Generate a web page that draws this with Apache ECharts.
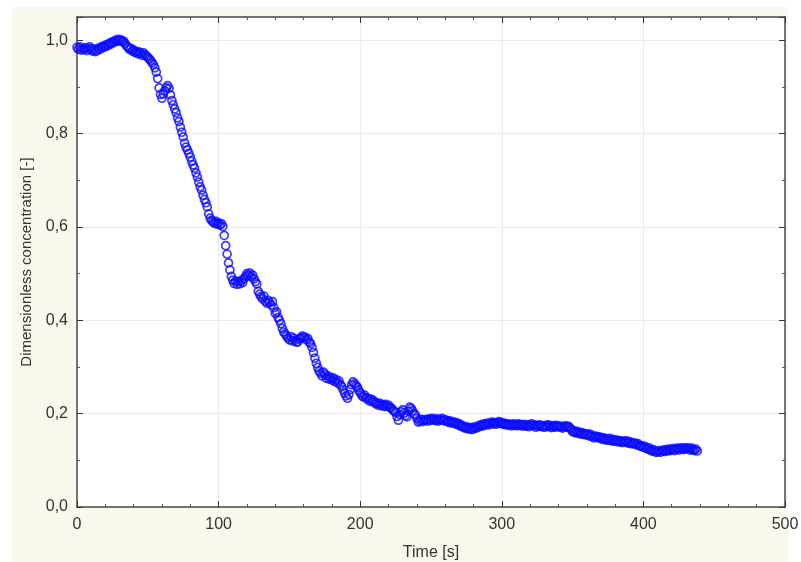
<!DOCTYPE html>
<html lang="en">
<head>
<meta charset="UTF-8">
<title>Dimensionless concentration</title>
<script src="https://cdn.jsdelivr.net/npm/echarts@6/dist/echarts.min.js"></script>
<style>
  html, body { margin: 0; padding: 0; background: #fff; }
  #main { width: 801px; height: 562px; }
</style>
</head>
<body>
<div id="main"></div>
<script>
// sampling: one reading per second, starting at t = 0 s
var timeStart = 0;
var timeStep = 1;

// dimensionless concentration [-]
var concentration = [
  0.985, 0.981, 0.986, 0.979, 0.983, 0.980, 0.984, 0.978, 0.982, 0.986,
  0.982, 0.977, 0.981, 0.976, 0.978, 0.983, 0.980, 0.986, 0.984, 0.988,
  0.986, 0.991, 0.989, 0.994, 0.992, 0.997, 0.995, 1.000, 0.998, 1.002,
  0.999, 1.001, 0.997, 0.998, 0.993, 0.988, 0.985, 0.981, 0.983, 0.977,
  0.979, 0.974, 0.976, 0.971, 0.975, 0.972, 0.968, 0.973, 0.969, 0.966,
  0.964, 0.960, 0.957, 0.952, 0.948, 0.941, 0.932, 0.918, 0.898, 0.884,
  0.876, 0.885, 0.892, 0.898, 0.903, 0.897, 0.883, 0.871, 0.862, 0.853,
  0.845, 0.834, 0.826, 0.814, 0.803, 0.793, 0.780, 0.771, 0.765, 0.758,
  0.750, 0.741, 0.733, 0.726, 0.716, 0.707, 0.696, 0.686, 0.679, 0.668,
  0.659, 0.652, 0.643, 0.628, 0.619, 0.614, 0.611, 0.608, 0.612, 0.606,
  0.609, 0.604, 0.607, 0.601, 0.582, 0.560, 0.542, 0.523, 0.508, 0.494,
  0.486, 0.479, 0.484, 0.477, 0.483, 0.478, 0.485, 0.481, 0.489, 0.494,
  0.500, 0.496, 0.501, 0.493, 0.497, 0.489, 0.483, 0.478, 0.462, 0.456,
  0.451, 0.446, 0.452, 0.441, 0.437, 0.443, 0.438, 0.433, 0.440, 0.427,
  0.415, 0.418, 0.406, 0.400, 0.393, 0.383, 0.375, 0.371, 0.366, 0.362,
  0.358, 0.365, 0.356, 0.362, 0.357, 0.353, 0.354, 0.360, 0.362, 0.366,
  0.363, 0.364, 0.358, 0.361, 0.353, 0.350, 0.342, 0.331, 0.319, 0.308,
  0.299, 0.291, 0.287, 0.281, 0.289, 0.285, 0.276, 0.281, 0.274, 0.278,
  0.272, 0.276, 0.269, 0.273, 0.266, 0.270, 0.262, 0.258, 0.251, 0.244,
  0.238, 0.233, 0.241, 0.252, 0.262, 0.268, 0.264, 0.260, 0.257, 0.250,
  0.245, 0.240, 0.236, 0.240, 0.234, 0.233, 0.228, 0.232, 0.226, 0.229,
  0.225, 0.221, 0.223, 0.218, 0.222, 0.217, 0.219, 0.215, 0.220, 0.216,
  0.218, 0.213, 0.212, 0.208, 0.205, 0.203, 0.194, 0.186, 0.198, 0.204,
  0.208, 0.201, 0.196, 0.193, 0.205, 0.214, 0.211, 0.206, 0.200, 0.197,
  0.190, 0.182, 0.184, 0.188, 0.183, 0.187, 0.185, 0.188, 0.184, 0.189,
  0.186, 0.190, 0.187, 0.185, 0.189, 0.184, 0.188, 0.186, 0.190, 0.185,
  0.187, 0.183, 0.185, 0.181, 0.184, 0.180, 0.182, 0.178, 0.181, 0.176,
  0.178, 0.173, 0.175, 0.170, 0.172, 0.168, 0.171, 0.167, 0.169, 0.166,
  0.171, 0.168, 0.172, 0.170, 0.175, 0.173, 0.177, 0.174, 0.178, 0.176,
  0.180, 0.176, 0.179, 0.182, 0.178, 0.181, 0.177, 0.180, 0.183, 0.179,
  0.181, 0.177, 0.179, 0.176, 0.178, 0.175, 0.177, 0.174, 0.178, 0.175,
  0.177, 0.174, 0.178, 0.175, 0.176, 0.173, 0.177, 0.174, 0.176, 0.172,
  0.175, 0.178, 0.174, 0.176, 0.171, 0.175, 0.173, 0.176, 0.172, 0.174,
  0.171, 0.175, 0.172, 0.176, 0.173, 0.170, 0.174, 0.171, 0.175, 0.172,
  0.174, 0.171, 0.173, 0.169, 0.172, 0.174, 0.171, 0.173, 0.170, 0.166,
  0.161, 0.163, 0.159, 0.162, 0.158, 0.160, 0.156, 0.159, 0.155, 0.157,
  0.154, 0.157, 0.152, 0.155, 0.151, 0.148, 0.152, 0.149, 0.151, 0.147,
  0.149, 0.145, 0.148, 0.144, 0.146, 0.143, 0.147, 0.142, 0.145, 0.141,
  0.144, 0.140, 0.143, 0.139, 0.142, 0.138, 0.141, 0.139, 0.142, 0.137,
  0.140, 0.136, 0.138, 0.135, 0.137, 0.133, 0.136, 0.132, 0.130, 0.131,
  0.128, 0.130, 0.126, 0.124, 0.127, 0.122, 0.120, 0.123, 0.119, 0.117,
  0.118, 0.121, 0.117, 0.120, 0.122, 0.119, 0.123, 0.120, 0.124, 0.121,
  0.123, 0.125, 0.121, 0.124, 0.126, 0.122, 0.125, 0.127, 0.123, 0.126,
  0.124, 0.127, 0.125, 0.122, 0.126, 0.123, 0.121, 0.124, 0.120
];

var xTicks = [0, 100, 200, 300, 400, 500];
var yTicks = [0, 0.2, 0.4, 0.6, 0.8, 1.0];

var points = concentration.map(function (c, i) {
  return [timeStart + i * timeStep, c];
});

var FONT = 'Liberation Sans, Arial, sans-serif';
var AXIS_COLOR = '#4a4a4a';

function yLabel(v) {
  for (var i = 0; i < yTicks.length; i++) {
    if (Math.abs(v - yTicks[i]) < 1e-6) return yTicks[i].toFixed(1).replace('.', ',');
  }
  return '';
}

function xAxisDef(pos, main) {
  return {
    type: 'value',
    position: pos,
    min: xTicks[0],
    max: xTicks[xTicks.length - 1],
    interval: 100,
    name: main ? 'Time [s]' : '',
    nameLocation: 'middle',
    nameGap: 38,
    nameTextStyle: { color: '#333', fontSize: 16, fontFamily: FONT },
    axisLine: { show: true, onZero: false, lineStyle: { color: AXIS_COLOR, width: 1.5 } },
    axisTick: { show: true, inside: true, length: 6, lineStyle: { color: '#333' } },
    minorTick: { show: true, splitNumber: 5, length: 3, lineStyle: { color: '#555' } },
    axisLabel: { show: main, color: '#333', fontSize: 16, fontFamily: FONT, margin: 10 },
    splitLine: { show: main, lineStyle: { color: '#ebebeb', width: 1 } }
  };
}

function yAxisDef(pos, main) {
  return {
    type: 'value',
    position: pos,
    min: 0,
    max: 1.05,
    interval: 0.2,
    name: main ? 'Dimensionless concentration [-]' : '',
    nameLocation: 'middle',
    nameGap: 41,
    nameTextStyle: { color: '#333', fontSize: 15, fontFamily: FONT },
    axisLine: { show: true, onZero: false, lineStyle: { color: AXIS_COLOR, width: 1.5 } },
    axisTick: { show: true, inside: true, length: 6, lineStyle: { color: '#333' } },
    minorTick: { show: true, splitNumber: 2, length: 3, lineStyle: { color: '#555' } },
    axisLabel: { show: main, color: '#333', fontSize: 16, fontFamily: FONT, margin: 9, formatter: yLabel },
    splitLine: { show: main, lineStyle: { color: '#ebebeb', width: 1 } }
  };
}

var chart = echarts.init(document.getElementById('main'), null, { renderer: 'canvas' });
chart.setOption({
  animation: false,
  backgroundColor: '#ffffff',
  graphic: [{
    type: 'rect',
    z: -10,
    silent: true,
    shape: { x: 12, y: 7, width: 776, height: 560 },
    style: { fill: '#faf7ec' }
  }],
  grid: {
    left: 77, right: 16, top: 17, bottom: 55,
    containLabel: false,
    outerBoundsMode: 'none',
    show: true, backgroundColor: '#ffffff', borderWidth: 0
  },
  xAxis: [xAxisDef('bottom', true), xAxisDef('top', false)],
  yAxis: [yAxisDef('left', true), yAxisDef('right', false)],
  series: [{
    type: 'scatter',
    xAxisIndex: 0,
    yAxisIndex: 0,
    data: points,
    symbol: 'circle',
    symbolSize: 8,
    itemStyle: { color: 'rgba(255,255,255,0)', borderColor: '#0a0aff', borderWidth: 1.7 }
  }]
});
</script>
</body>
</html>
